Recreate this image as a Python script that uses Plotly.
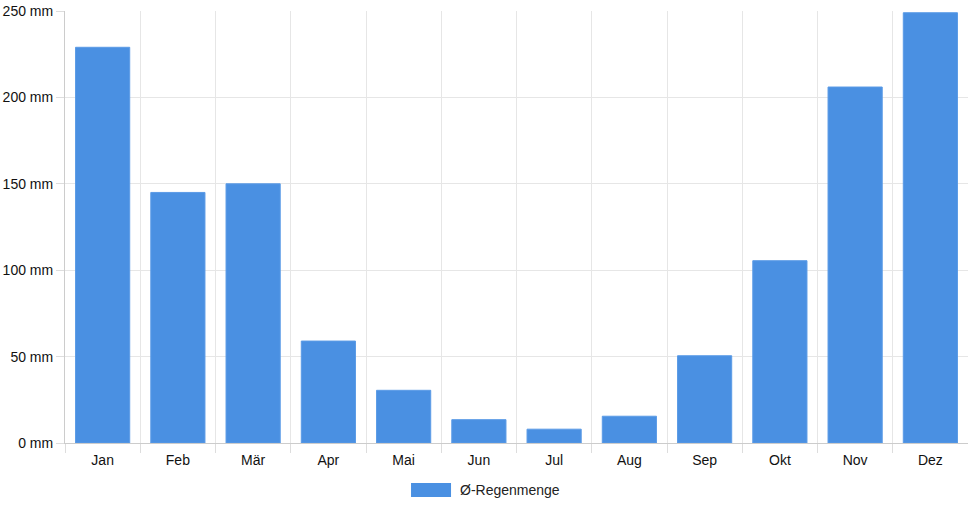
import plotly.graph_objects as go

months = ["Jan", "Feb", "Mär", "Apr", "Mai", "Jun", "Jul", "Aug", "Sep", "Okt", "Nov", "Dez"]
rain_mm = [229, 145, 150, 59, 30.5, 13.5, 8, 15.5, 50.5, 105.5, 206, 249]
y_ticks = [0, 50, 100, 150, 200, 250]
y_tick_labels = [f"{v} mm" for v in y_ticks]
series_name = "Ø-Regenmenge"
bar_color = "#4a90e2"

fig = go.Figure()
fig.add_trace(go.Bar(
    x=months, y=rain_mm, name=series_name,
    marker=dict(color=bar_color, line=dict(color="#5b9be6", width=1)),
    showlegend=False,
))

# legend drawn as a wide swatch + label (Chart.js style)
fig.add_shape(type="rect", xref="paper", yref="paper",
              x0=0.3832, x1=0.4275, y0=-0.0926, y1=-0.125,
              fillcolor=bar_color, line=dict(width=0))
fig.add_annotation(xref="paper", yref="paper", x=0.4352, y=-0.1088,
                   xanchor="left", yanchor="middle", showarrow=False,
                   text=series_name, font=dict(size=14, color="#222"))

fig.update_layout(
    width=968, height=508,
    margin=dict(l=65, r=0, t=11, b=65),
    paper_bgcolor="white", plot_bgcolor="white",
    font=dict(family="Liberation Sans, Arial, sans-serif", size=14, color="#111"),
    bargap=0.28,
)
fig.update_xaxes(
    tickson="boundaries", ticks="outside", ticklen=9, tickcolor="#dddddd",
    showgrid=True, gridcolor="#e6e6e6", gridwidth=1,
    showline=True, linecolor="#cccccc", linewidth=1,
    tickfont=dict(size=14, color="#111"), ticklabelstandoff=4,
)
fig.update_yaxes(
    range=[0, 250], tickvals=y_ticks, ticktext=y_tick_labels,
    ticks="outside", ticklen=8, tickcolor="#dddddd",
    showgrid=True, gridcolor="#e6e6e6", gridwidth=1, zeroline=False,
    showline=True, linecolor="#cccccc", linewidth=1,
    tickfont=dict(size=14, color="#111"),
)

fig.write_html("out.html", config={"displayModeBar": False},
               post_script="document.body.style.margin='0';")
